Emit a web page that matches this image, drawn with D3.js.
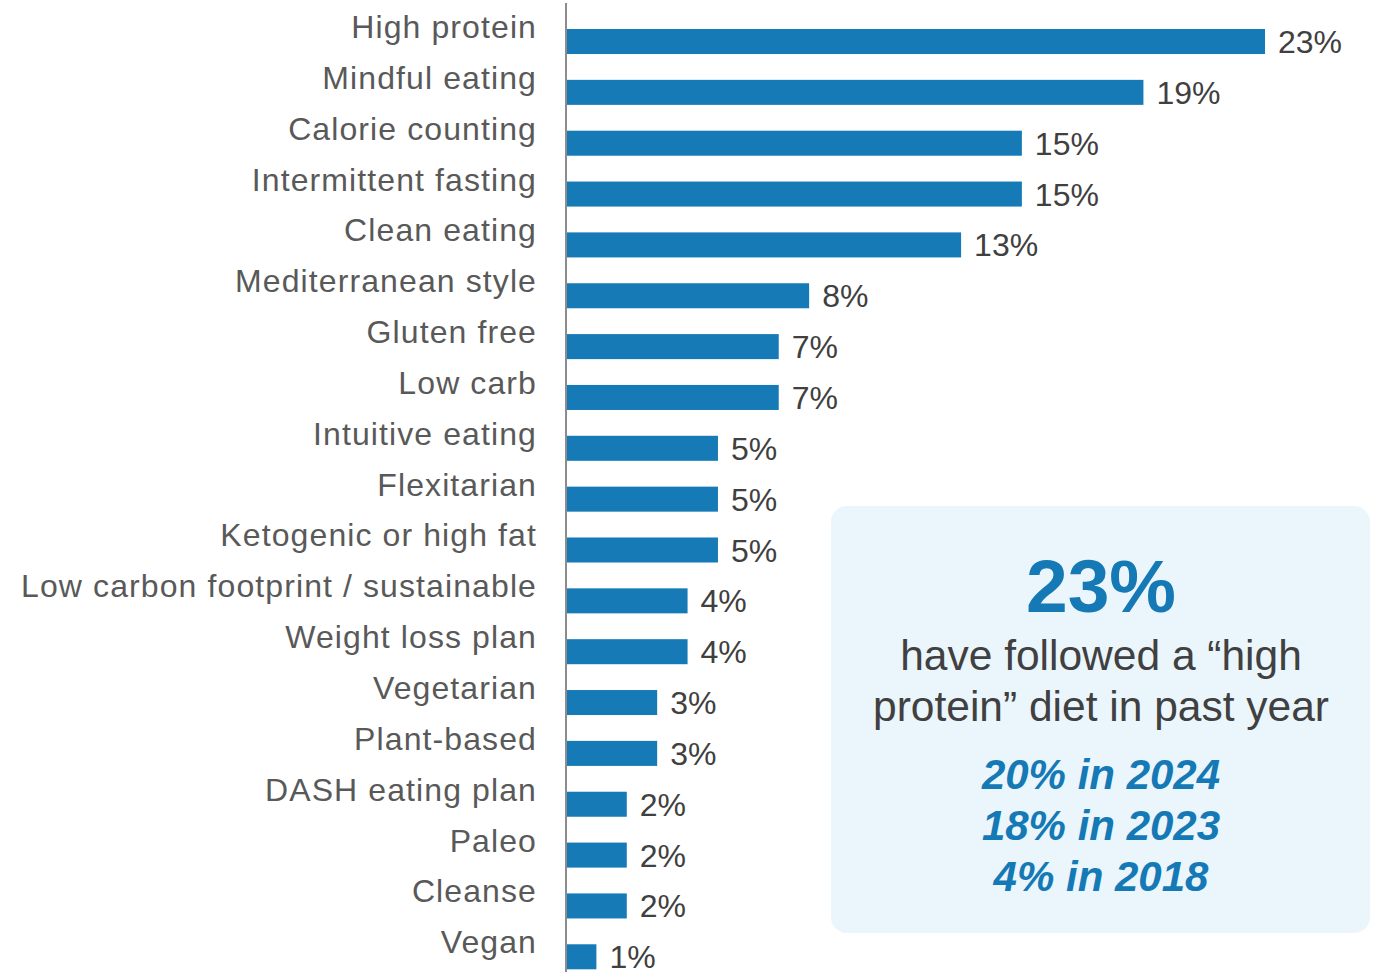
<!DOCTYPE html>
<html><head><meta charset="utf-8">
<script src="https://cdn.jsdelivr.net/npm/d3@7"></script>
<style>body{margin:0;background:#fff}svg{display:block}</style>
</head><body>
<svg id="c" width="1375" height="972"></svg>
<script>
const categories = ["High protein","Mindful eating","Calorie counting","Intermittent fasting","Clean eating","Mediterranean style","Gluten free","Low carb","Intuitive eating","Flexitarian","Ketogenic or high fat","Low carbon footprint / sustainable","Weight loss plan","Vegetarian","Plant-based","DASH eating plan","Paleo","Cleanse","Vegan"];
const values = [23,19,15,15,13,8,7,7,5,5,5,4,4,3,3,2,2,2,1];
const calloutBig = "23%";
const calloutText = ["have followed a \u201chigh","protein\u201d diet in past year"];
const calloutHistory = ["20% in 2024","18% in 2023","4% in 2018"];

const svg = d3.select("#c");
const font = "'Liberation Sans', Arial, sans-serif";
const x0 = 566;
const x = d3.scaleLinear().domain([0,23]).range([x0, 1265]);
const y = d3.scaleBand().domain(categories).range([29, 969.3]).paddingInner(0.508).paddingOuter(0);

svg.selectAll("rect.bar").data(categories).join("rect").attr("class","bar")
  .attr("x", x0).attr("y", d=>y(d))
  .attr("width", (d,i)=>x(values[i])-x0).attr("height", y.bandwidth())
  .attr("fill","#157ab5");

svg.append("line").attr("x1",x0).attr("x2",x0).attr("y1",3).attr("y2",972)
  .attr("stroke","#8c8c8c").attr("stroke-width",2);

svg.selectAll("text.cat").data(categories).join("text").attr("class","cat")
  .attr("x",537).attr("y",d=>y(d)+y.bandwidth()/2-3.5)
  .attr("text-anchor","end").attr("font-family",font).attr("font-size",32)
  .attr("letter-spacing","1.1px")
  .attr("fill","#595959").text(d=>d);

svg.selectAll("text.val").data(categories).join("text").attr("class","val")
  .attr("x",(d,i)=>x(values[i])+13).attr("y",d=>y(d)+y.bandwidth()-1)
  .attr("font-family",font).attr("font-size",32)
  .attr("fill","#404040").text((d,i)=>values[i]+"%");

const g = svg.append("g");
g.append("rect").attr("x",831).attr("y",506).attr("width",539).attr("height",427)
  .attr("rx",16).attr("fill","#eaf5fc");
const cx = 1101;
g.append("text").attr("x",cx).attr("y",612).attr("text-anchor","middle")
  .attr("font-family",font).attr("font-weight","bold").attr("font-size",75)
  .attr("fill","#1479b4").text(calloutBig);
g.selectAll("text.ct").data(calloutText).join("text").attr("class","ct")
  .attr("x",cx).attr("y",(d,i)=>670+i*51).attr("text-anchor","middle")
  .attr("font-family",font).attr("font-size",42.5).attr("fill","#404040").text(d=>d);
g.selectAll("text.ch").data(calloutHistory).join("text").attr("class","ch")
  .attr("x",cx).attr("y",(d,i)=>789+i*51).attr("text-anchor","middle")
  .attr("font-family",font).attr("font-size",42).attr("font-weight","bold").attr("font-style","italic")
  .attr("fill","#1479b4").text(d=>d);
</script>
</body></html>
